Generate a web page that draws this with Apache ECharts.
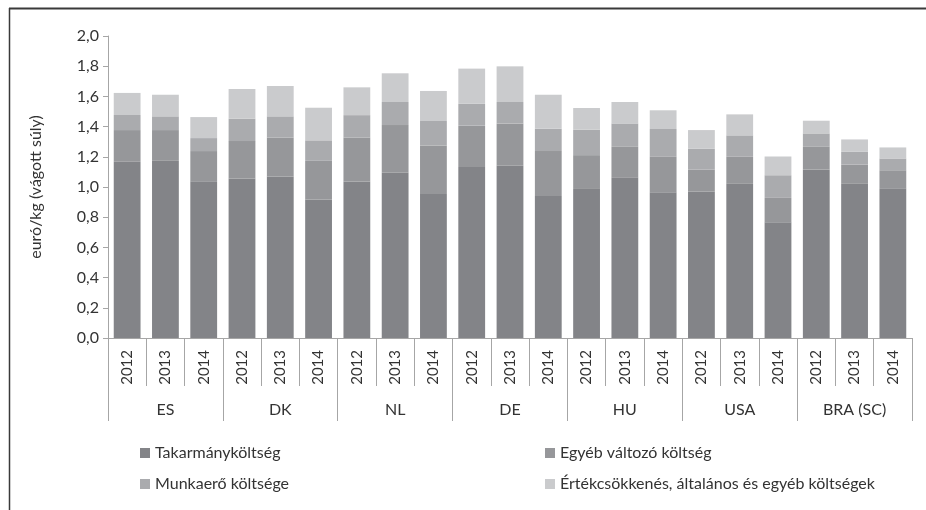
<!DOCTYPE html>
<html><head><meta charset="utf-8">
<script src="https://cdn.jsdelivr.net/npm/echarts@6/dist/echarts.min.js"></script>
<style>html,body{margin:0;padding:0;background:#fff}#c{width:926px;height:510px}</style>
</head><body><div id="c"></div>
<script>
const years = ['2012','2013','2014','2012','2013','2014','2012','2013','2014','2012','2013','2014','2012','2013','2014','2012','2013','2014','2012','2013','2014'];
const groups = ['ES','DK','NL','DE','HU','USA','BRA (SC)'];
const yTicks = [0,0.2,0.4,0.6,0.8,1.0,1.2,1.4,1.6,1.8,2.0];
const seriesNames = ['Takarmányköltség','Egyéb változó költség','Munkaerő költsége','Értékcsökkenés, általános és egyéb költségek'];
const feed  = [1.167,1.173,1.038, 1.056,1.070,0.917, 1.036,1.094,0.954, 1.133,1.140,0.941, 0.987,1.065,0.965, 0.970,1.021,0.766, 1.116,1.021,0.992];
const other = [0.210,0.204,0.200, 0.248,0.258,0.256, 0.292,0.316,0.321, 0.273,0.281,0.297, 0.224,0.201,0.235, 0.146,0.179,0.162, 0.150,0.128,0.119];
const labor = [0.100,0.091,0.086, 0.148,0.140,0.136, 0.148,0.153,0.162, 0.145,0.142,0.148, 0.168,0.155,0.184, 0.137,0.142,0.150, 0.089,0.084,0.078];
const depr  = [0.146,0.143,0.139, 0.197,0.201,0.216, 0.184,0.190,0.199, 0.233,0.236,0.225, 0.144,0.142,0.124, 0.124,0.139,0.124, 0.084,0.082,0.073];
const colors = ['#838488','#96979a','#aaabae','#cacbcd'];

const font = 'Lato';
const txt = '#333333';
const axisCol = '#a6a6a6';
const chart = echarts.init(document.getElementById('c'));
const dataSets = [feed, other, labor, depr];
const legendText = {fontFamily:font,fontSize:16,color:txt};
chart.setOption({
  animation:false,
  textStyle:{fontFamily:font},
  grid:{left:108,right:14,top:36,bottom:172},
  legend:[
    {data:[seriesNames[0],seriesNames[2]], orient:'vertical', left:140, top:445, padding:0, itemGap:15, icon:'rect', itemWidth:10, itemHeight:10,
     textStyle:legendText, selectedMode:false},
    {data:[seriesNames[1],seriesNames[3]], orient:'vertical', left:545, top:445, padding:0, itemGap:15, icon:'rect', itemWidth:10, itemHeight:10,
     textStyle:legendText, selectedMode:false}
  ],
  xAxis:[
    {type:'category', data:years, position:'bottom',
     axisLine:{lineStyle:{color:axisCol,width:1}},
     axisTick:{show:true, interval:0, length:48, lineStyle:{color:axisCol}},
     axisLabel:{interval:0, rotate:90, margin:12, fontSize:15, color:txt, fontFamily:font}},
    {type:'category', data:groups, position:'bottom', offset:48,
     axisLine:{show:false},
     axisTick:{show:true, interval:0, length:35, lineStyle:{color:axisCol}},
     axisLabel:{interval:0, margin:16, fontSize:16, color:txt, fontFamily:font}}
  ],
  yAxis:{type:'value', min:0, max:2, interval:0.2,
    name:'euró/kg (vágott súly)', nameLocation:'middle', nameGap:64, nameRotate:90,
    nameTextStyle:{fontSize:16, color:txt, fontFamily:font},
    axisLine:{show:true, lineStyle:{color:axisCol}},
    axisTick:{show:true, length:5, lineStyle:{color:axisCol}},
    splitLine:{show:false},
    axisLabel:{margin:9, fontSize:16, color:txt, fontFamily:font,
      formatter:v=>{const t=yTicks.find(x=>Math.abs(x-v)<1e-9); return (t!==undefined?t:v).toFixed(1).replace('.',',');}}},
  series: dataSets.map((d,i)=>({name:seriesNames[i], type:'bar', stack:'s', data:d, barWidth:'70%', xAxisIndex:0,
    itemStyle:{color:colors[i]}})),
  graphic:[
    {type:'line', shape:{x1:9,y1:8.5,x2:926,y2:8.5}, style:{stroke:'#3a3a3a',lineWidth:2}},
    {type:'line', shape:{x1:9.5,y1:8,x2:9.5,y2:510}, style:{stroke:'#3a3a3a',lineWidth:1.5}}
  ]
});
</script></body></html>
